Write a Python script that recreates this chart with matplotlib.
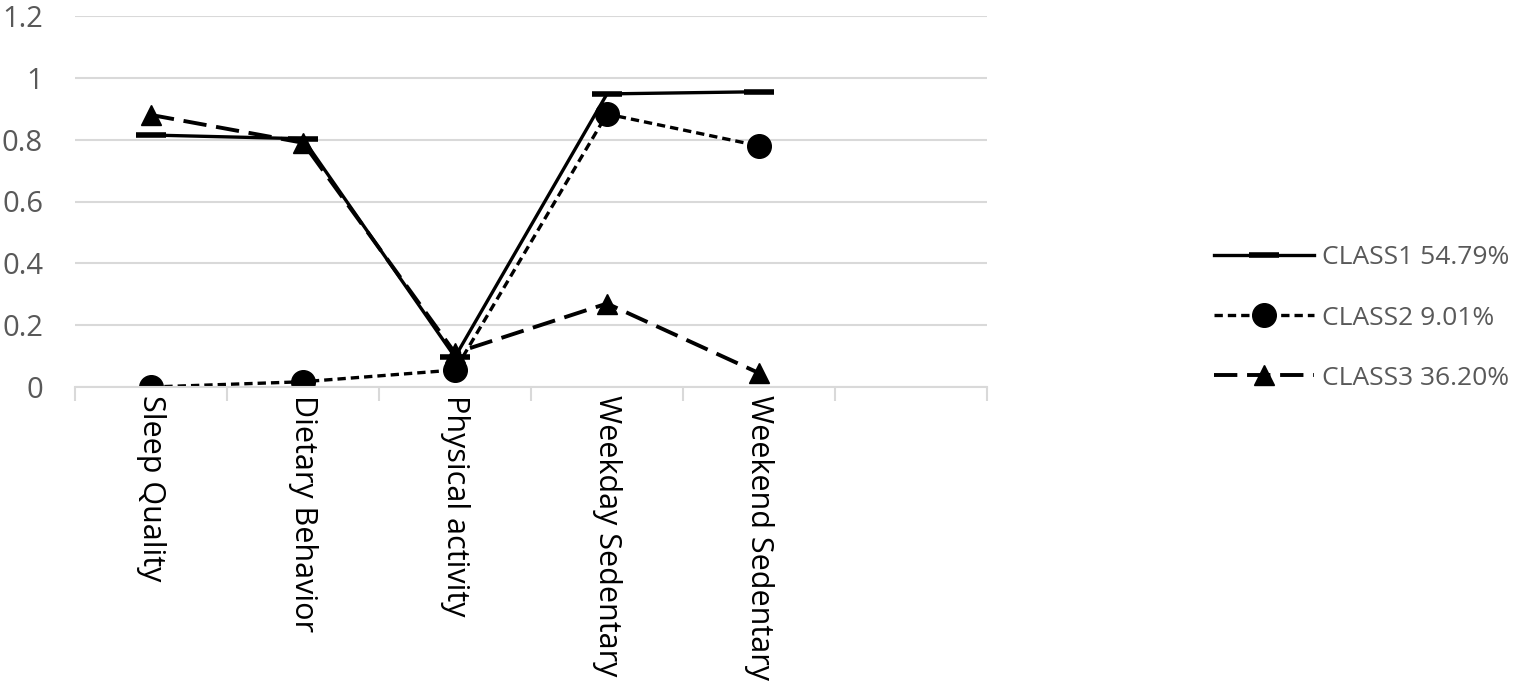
import matplotlib.pyplot as plt

plt.rcParams['font.family'] = ['Open Sans', 'DejaVu Sans']

categories = ["Sleep Quality", "Dietary Behavior", "Physical activity",
              "Weekday Sedentary", "Weekend Sedentary", ""]
class1 = [0.815, 0.803, 0.097, 0.948, 0.955]
class2 = [0.0, 0.017, 0.055, 0.883, 0.78]
class3 = [0.88, 0.79, 0.11, 0.27, 0.045]
labels = ["CLASS1 54.79%", "CLASS2 9.01%", "CLASS3 36.20%"]

grey = "#595959"

fig = plt.figure(figsize=(15.37, 6.92), dpi=100)
ax = fig.add_axes([75 / 1537, 1 - 387 / 692, 912 / 1537, 371 / 692])

x = list(range(len(class1)))
ax.plot(x, class1, color="black", lw=2.4, marker="_", ms=22, mew=4,
        label=labels[0])
ax.plot(x, class2, color="black", lw=2.4, ls=(0, (2.5, 1.5)), marker="o",
        ms=17, label=labels[1])
ax.plot(x, class3, color="black", lw=2.8, ls=(0, (6, 2.5)), marker="^",
        ms=15, label=labels[2])

ax.set_xlim(-0.5, len(categories) - 0.5)
ax.set_ylim(0, 1.2)
ax.set_yticks([0, 0.2, 0.4, 0.6, 0.8, 1, 1.2])
ax.set_yticklabels(["0", "0.2", "0.4", "0.6", "0.8", "1", "1.2"])
ax.set_xticks(range(len(categories)))
ax.set_xticklabels(categories, rotation=270, va="top", ha="center")
ax.set_xticks([i - 0.5 for i in range(len(categories) + 1)], minor=True)
ax.tick_params(axis="x", which="major", length=0, pad=6, labelsize=22,
               labelcolor="black")
ax.tick_params(axis="x", which="minor", length=10, width=1.5, color="#d9d9d9")
ax.tick_params(axis="y", length=0, pad=23, labelsize=21, labelcolor=grey)

ax.grid(axis="y", color="#d9d9d9", lw=1.5)
ax.set_axisbelow(True)
for s in ["top", "right", "left"]:
    ax.spines[s].set_visible(False)
ax.spines["bottom"].set_color("#d9d9d9")
ax.spines["bottom"].set_linewidth(1.5)

leg = fig.legend(loc="center left", bbox_to_anchor=(1190 / 1537, 1 - 318 / 692),
                 frameon=False, fontsize=19, handlelength=3.8,
                 labelspacing=1.33, handletextpad=0.3)
for t in leg.get_texts():
    t.set_color(grey)

fig.savefig("out.png", dpi=100)
